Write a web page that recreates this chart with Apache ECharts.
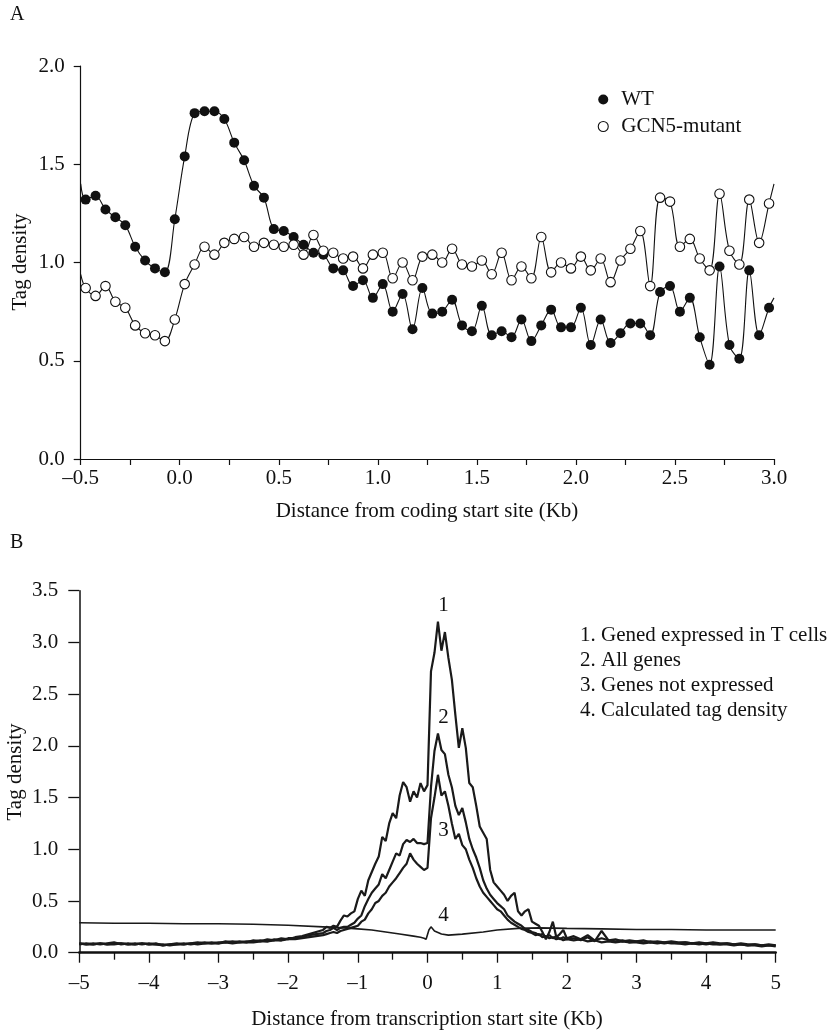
<!DOCTYPE html>
<html>
<head>
<meta charset="utf-8">
<script src="https://cdn.jsdelivr.net/npm/echarts@6/dist/echarts.min.js"></script>
<style>
  html, body { margin: 0; padding: 0; background: #fff; }
  #chart { width: 835px; height: 1031px; }
</style>
</head>
<body>
<div id="chart"></div>
<script>
// ---------- Panel A data ----------
const xsA = [-0.5, -0.475, -0.425, -0.375, -0.325, -0.275, -0.225, -0.175, -0.125, -0.075, -0.025,
  0.025, 0.075, 0.125, 0.175, 0.225, 0.275, 0.325, 0.375, 0.425, 0.475,
  0.525, 0.575, 0.625, 0.675, 0.725, 0.775, 0.825, 0.875, 0.925, 0.975,
  1.025, 1.075, 1.125, 1.175, 1.225, 1.275, 1.325, 1.375, 1.425, 1.475,
  1.525, 1.575, 1.625, 1.675, 1.725, 1.775, 1.825, 1.875, 1.925, 1.975,
  2.025, 2.075, 2.125, 2.175, 2.225, 2.275, 2.325, 2.375, 2.425, 2.475,
  2.525, 2.575, 2.625, 2.675, 2.725, 2.775, 2.825, 2.875, 2.925, 2.975, 3.0];
const wtA = [1.40, 1.32, 1.34, 1.27, 1.23, 1.19, 1.08, 1.01, 0.97, 0.95, 1.22,
  1.54, 1.76, 1.77, 1.77, 1.73, 1.61, 1.52, 1.39, 1.33, 1.17,
  1.16, 1.13, 1.09, 1.05, 1.04, 0.97, 0.96, 0.88, 0.91, 0.82,
  0.89, 0.75, 0.84, 0.66, 0.87, 0.74, 0.75, 0.81, 0.68, 0.65,
  0.78, 0.63, 0.65, 0.62, 0.71, 0.60, 0.68, 0.76, 0.67, 0.67,
  0.77, 0.58, 0.71, 0.59, 0.64, 0.69, 0.69, 0.63, 0.85, 0.88,
  0.75, 0.82, 0.62, 0.48, 0.98, 0.58, 0.51, 0.96, 0.63, 0.77, 0.82];
const gcnA = [0.94, 0.87, 0.83, 0.88, 0.80, 0.77, 0.68, 0.64, 0.63, 0.60, 0.71,
  0.89, 0.99, 1.08, 1.04, 1.10, 1.12, 1.13, 1.08, 1.10, 1.09,
  1.08, 1.09, 1.04, 1.14, 1.06, 1.05, 1.02, 1.03, 0.97, 1.04,
  1.05, 0.92, 1.00, 0.91, 1.03, 1.04, 1.00, 1.07, 0.99, 0.98,
  1.01, 0.94, 1.05, 0.91, 0.98, 0.92, 1.13, 0.95, 1.00, 0.97,
  1.03, 0.96, 1.02, 0.90, 1.01, 1.07, 1.16, 0.88, 1.33, 1.31,
  1.08, 1.12, 1.02, 0.96, 1.35, 1.06, 0.99, 1.32, 1.10, 1.30, 1.40];
const namesA = ['WT', 'GCN5-mutant'];

// ---------- Panel B data ----------
const xsB = [-5.0, -4.9, -4.8, -4.7, -4.6, -4.5, -4.4, -4.3, -4.2, -4.1, -4.0, -3.9, -3.8, -3.7, -3.6, -3.5, -3.4,
  -3.3, -3.2, -3.1, -3.0, -2.9, -2.8, -2.7, -2.6, -2.5, -2.4, -2.3, -2.2, -2.1, -2.0, -1.9, -1.8, -1.7, -1.6,
  -1.5, -1.45, -1.4, -1.35, -1.3, -1.25, -1.2, -1.15, -1.1, -1.05, -1.0, -0.95, -0.9, -0.85, -0.8, -0.75,
  -0.7, -0.65, -0.6, -0.55, -0.5, -0.45, -0.4, -0.35, -0.3, -0.25, -0.2, -0.15, -0.1, -0.05, 0.0,
  0.05, 0.1, 0.15, 0.2, 0.25, 0.3, 0.35, 0.4, 0.45, 0.5, 0.55, 0.6, 0.65, 0.7, 0.75, 0.8, 0.85, 0.9, 0.95, 1.0,
  1.05, 1.1, 1.15, 1.2, 1.25, 1.3, 1.35, 1.4, 1.45, 1.5, 1.55, 1.6, 1.65, 1.7, 1.75, 1.8, 1.85, 1.9, 1.95, 2.0,
  2.1, 2.2, 2.3, 2.4, 2.5, 2.6, 2.7, 2.8, 2.9, 3.0, 3.1, 3.2, 3.3, 3.4, 3.5, 3.6, 3.7, 3.8, 3.9, 4.0,
  4.1, 4.2, 4.3, 4.4, 4.5, 4.6, 4.7, 4.8, 4.9, 5.0];
const expressedB = [0.09, 0.08, 0.09, 0.08, 0.09, 0.10, 0.08, 0.09, 0.08, 0.09, 0.08, 0.09, 0.07, 0.08, 0.09, 0.08, 0.09,
  0.10, 0.09, 0.10, 0.09, 0.11, 0.10, 0.11, 0.10, 0.12, 0.11, 0.13, 0.12, 0.14, 0.13, 0.15, 0.16, 0.18, 0.20,
  0.22, 0.25, 0.24, 0.26, 0.25, 0.31, 0.36, 0.35, 0.38, 0.40, 0.52, 0.60, 0.55, 0.70, 0.78, 0.86,
  0.93, 1.12, 1.08, 1.25, 1.35, 1.30, 1.52, 1.65, 1.60, 1.46, 1.56, 1.50, 1.64, 1.56, 1.62,
  2.72, 2.90, 3.20, 2.92, 3.10, 2.85, 2.64, 2.30, 1.98, 2.17, 1.98, 1.64, 1.60, 1.42, 1.22, 1.16, 1.10, 0.80, 0.68, 0.64,
  0.60, 0.56, 0.50, 0.55, 0.58, 0.40, 0.36, 0.40, 0.42, 0.30, 0.28, 0.26, 0.20, 0.13, 0.20, 0.30, 0.15, 0.18, 0.22, 0.14,
  0.16, 0.13, 0.17, 0.12, 0.14, 0.12, 0.13, 0.11, 0.12, 0.11, 0.12, 0.10, 0.11, 0.10, 0.11, 0.10, 0.10, 0.09, 0.10, 0.09,
  0.10, 0.09, 0.09, 0.08, 0.09, 0.08, 0.08, 0.07, 0.08, 0.07];
const allGenesB = [0.08, 0.09, 0.08, 0.09, 0.08, 0.09, 0.09, 0.08, 0.09, 0.08, 0.09, 0.08, 0.08, 0.07, 0.08, 0.09, 0.08,
  0.09, 0.10, 0.09, 0.10, 0.10, 0.11, 0.10, 0.11, 0.11, 0.12, 0.11, 0.13, 0.12, 0.14, 0.14, 0.15, 0.17, 0.18,
  0.19, 0.21, 0.22, 0.24, 0.22, 0.24, 0.25, 0.25, 0.27, 0.29, 0.33, 0.36, 0.45, 0.52, 0.58, 0.62,
  0.66, 0.76, 0.72, 0.80, 0.88, 0.96, 0.94, 1.05, 1.09, 1.07, 1.10, 1.06, 1.06, 1.05, 1.06,
  1.60, 1.95, 2.12, 1.96, 1.92, 1.72, 1.60, 1.42, 1.33, 1.40, 1.26, 1.10, 1.00, 0.92, 0.82, 0.70, 0.62, 0.56, 0.52, 0.48,
  0.45, 0.42, 0.36, 0.33, 0.30, 0.28, 0.26, 0.23, 0.22, 0.20, 0.19, 0.17, 0.18, 0.15, 0.17, 0.14, 0.16, 0.13, 0.15, 0.13,
  0.14, 0.12, 0.15, 0.11, 0.21, 0.12, 0.11, 0.12, 0.10, 0.11, 0.10, 0.11, 0.10, 0.09, 0.10, 0.09, 0.10, 0.09, 0.09, 0.08,
  0.09, 0.08, 0.09, 0.08, 0.08, 0.07, 0.08, 0.07, 0.07, 0.07];
const notExpressedB = [0.09, 0.08, 0.08, 0.09, 0.08, 0.08, 0.09, 0.08, 0.08, 0.09, 0.08, 0.08, 0.07, 0.08, 0.08, 0.08, 0.09,
  0.08, 0.09, 0.09, 0.09, 0.10, 0.09, 0.10, 0.10, 0.10, 0.11, 0.11, 0.12, 0.12, 0.13, 0.13, 0.14, 0.15, 0.16,
  0.17, 0.18, 0.19, 0.20, 0.19, 0.21, 0.22, 0.23, 0.24, 0.25, 0.26, 0.30, 0.32, 0.38, 0.42, 0.48,
  0.50, 0.55, 0.58, 0.64, 0.68, 0.72, 0.77, 0.82, 0.86, 0.96, 0.90, 0.86, 0.83, 0.80, 0.82,
  1.30, 1.50, 1.72, 1.52, 1.56, 1.42, 1.25, 1.10, 1.15, 1.04, 1.00, 0.90, 0.82, 0.72, 0.64, 0.58, 0.54, 0.50, 0.46, 0.42,
  0.40, 0.36, 0.32, 0.29, 0.27, 0.25, 0.23, 0.22, 0.20, 0.19, 0.17, 0.18, 0.15, 0.16, 0.14, 0.15, 0.13, 0.14, 0.12, 0.13,
  0.12, 0.13, 0.11, 0.12, 0.10, 0.11, 0.10, 0.11, 0.10, 0.10, 0.09, 0.10, 0.09, 0.10, 0.09, 0.09, 0.08, 0.09, 0.08, 0.09,
  0.08, 0.08, 0.08, 0.07, 0.08, 0.07, 0.07, 0.06, 0.07, 0.06];
const xsCalc = [-5.0, -4.5, -4.0, -3.5, -3.0, -2.5, -2.0, -1.5, -1.2, -1.0, -0.8, -0.6, -0.4, -0.2, -0.1, -0.05, -0.02,
  0.02, 0.05, 0.1, 0.2, 0.3, 0.5, 0.8, 1.0, 1.3, 1.6, 2.0, 2.5, 3.0, 3.5, 4.0, 4.5, 5.0];
const calcB = [0.29, 0.285, 0.285, 0.28, 0.28, 0.275, 0.265, 0.25, 0.24, 0.23, 0.22, 0.20, 0.18, 0.16, 0.15, 0.14, 0.13,
  0.22, 0.25, 0.21, 0.18, 0.17, 0.18, 0.20, 0.22, 0.235, 0.24, 0.235, 0.23, 0.225, 0.225, 0.22, 0.22, 0.22];
const legendB = ['1. Gened expressed in T cells', '2. All genes', '3. Genes not expressed', '4. Calculated tag density'];
const curveLabelsB = ['1', '2', '3', '4'];

const FONT = 'Liberation Serif';
const INK = '#111';

function pairs(xs, ys) { return xs.map((x, i) => [x, ys[i]]); }
function dashNum(v, d) { const s = Math.abs(v).toFixed(d); return v < 0 ? '\u2013' + s : s; }

const chart = echarts.init(document.getElementById('chart'), null, { renderer: 'canvas' });

const lastA = xsA.length - 1;
function seriesA(name, ys, filled, z) {
  return {
    name: name, type: 'line', xAxisIndex: 0, yAxisIndex: 0, z: z,
    smooth: 0.35,
    symbol: 'circle',
    symbolSize: filled ? 10 : 9.5,
    data: xsA.map((x, i) => (i === 0 || i === lastA)
      ? { value: [x, ys[i]], symbol: 'none' } : { value: [x, ys[i]] }),
    lineStyle: { color: INK, width: 1.1 },
    itemStyle: filled ? { color: INK, borderColor: INK, borderWidth: 0 }
                      : { color: '#fff', borderColor: INK, borderWidth: 1.1 },
    emphasis: { disabled: true }
  };
}
function seriesB(name, xs, ys, w) {
  return {
    name: name, type: 'line', xAxisIndex: 1, yAxisIndex: 1,
    showSymbol: false, symbol: 'none',
    data: pairs(xs, ys),
    lineStyle: { color: '#1a1a1a', width: w },
    emphasis: { disabled: true }
  };
}

const axisLabelBase = { color: INK, fontFamily: FONT, fontSize: 21 };

const option = {
  animation: false,
  backgroundColor: '#fff',
  textStyle: { fontFamily: FONT },
  grid: [
    { left: 80.7, top: 66, width: 693.3, height: 393 },
    { left: 79.3, top: 590.7, width: 696.4, height: 362 }
  ],
  xAxis: [
    {
      gridIndex: 0, type: 'value', min: -0.5, max: 3.0, interval: 0.5,
      axisLine: { onZero: false, lineStyle: { color: INK, width: 1.2 } },
      axisTick: { length: 6, lineStyle: { color: INK, width: 1.2 } },
      minorTick: { show: true, splitNumber: 2, length: 6, lineStyle: { color: INK, width: 1.2 } },
      splitLine: { show: false },
      axisLabel: Object.assign({ margin: 9, formatter: v => dashNum(v, 1) }, axisLabelBase)
    },
    {
      gridIndex: 1, type: 'value', min: -5, max: 5, interval: 1,
      axisLine: { onZero: false, lineStyle: { color: INK, width: 2.5 } },
      axisTick: { length: 10, lineStyle: { color: INK, width: 1.3 } },
      minorTick: { show: true, splitNumber: 2, length: 7, lineStyle: { color: INK, width: 1.3 } },
      splitLine: { show: false },
      axisLabel: Object.assign({ margin: 20, formatter: v => dashNum(v, 0) }, axisLabelBase)
    }
  ],
  yAxis: [
    {
      gridIndex: 0, type: 'value', min: 0, max: 2.0, interval: 0.5,
      axisLine: { show: true, onZero: false, lineStyle: { color: INK, width: 1.2 } },
      axisTick: { show: true, length: 7, lineStyle: { color: INK, width: 1.2 } },
      splitLine: { show: false },
      axisLabel: Object.assign({ margin: 16, formatter: v => v.toFixed(1) }, axisLabelBase)
    },
    {
      gridIndex: 1, type: 'value', min: 0, max: 3.5, interval: 0.5,
      axisLine: { show: true, onZero: false, lineStyle: { color: INK, width: 1.5 } },
      axisTick: { show: true, length: 11, lineStyle: { color: INK, width: 1.3 } },
      splitLine: { show: false },
      axisLabel: Object.assign({ margin: 21, formatter: v => v.toFixed(1) }, axisLabelBase)
    }
  ],
  legend: {
    orient: 'vertical', left: 592.7, top: 84, itemWidth: 10, itemHeight: 10, itemGap: 6,
    selectedMode: false,
    data: [
      { name: namesA[0], icon: 'circle', itemStyle: { color: INK, borderWidth: 0 } },
      { name: namesA[1], icon: 'circle', itemStyle: { color: '#fff', borderColor: INK, borderWidth: 1.1 } }
    ],
    textStyle: { color: INK, fontFamily: FONT, fontSize: 21, padding: [0, 0, 0, 8] }
  },
  series: [
    seriesA(namesA[0], wtA, true, 2),
    seriesA(namesA[1], gcnA, false, 3),
    seriesB(legendB[3], xsCalc, calcB, 1.6),
    seriesB(legendB[2], xsB, notExpressedB, 2.2),
    seriesB(legendB[1], xsB, allGenesB, 2.2),
    seriesB(legendB[0], xsB, expressedB, 2.2)
  ],
  graphic: [
    { type: 'text', left: 10, top: 5, style: { text: 'A', font: '20px "Liberation Serif"', fill: INK } },
    { type: 'text', left: 10, top: 533, style: { text: 'B', font: '20px "Liberation Serif"', fill: INK } },
    { type: 'text', x: 427, y: 511, style: { text: 'Distance from coding start site (Kb)', font: '21px "Liberation Serif"', fill: INK, align: 'center', verticalAlign: 'middle' } },
    { type: 'text', x: 427, y: 1019, style: { text: 'Distance from transcription start site (Kb)', font: '21px "Liberation Serif"', fill: INK, align: 'center', verticalAlign: 'middle' } },
    { type: 'text', x: 20, y: 262, rotation: Math.PI / 2, style: { text: 'Tag density', font: '21px "Liberation Serif"', fill: INK, align: 'center', verticalAlign: 'middle' } },
    { type: 'text', x: 15, y: 772, rotation: Math.PI / 2, style: { text: 'Tag density', font: '21px "Liberation Serif"', fill: INK, align: 'center', verticalAlign: 'middle' } },
    { type: 'text', x: 580, y: 635, style: { text: legendB[0], font: '21px "Liberation Serif"', fill: INK, verticalAlign: 'middle' } },
    { type: 'text', x: 580, y: 660, style: { text: legendB[1], font: '21px "Liberation Serif"', fill: INK, verticalAlign: 'middle' } },
    { type: 'text', x: 580, y: 685, style: { text: legendB[2], font: '21px "Liberation Serif"', fill: INK, verticalAlign: 'middle' } },
    { type: 'text', x: 580, y: 710, style: { text: legendB[3], font: '21px "Liberation Serif"', fill: INK, verticalAlign: 'middle' } },
    { type: 'text', x: 443.5, y: 605, style: { text: curveLabelsB[0], font: '21px "Liberation Serif"', fill: INK, align: 'center', verticalAlign: 'middle' } },
    { type: 'text', x: 443.5, y: 717, style: { text: curveLabelsB[1], font: '21px "Liberation Serif"', fill: INK, align: 'center', verticalAlign: 'middle' } },
    { type: 'text', x: 443.5, y: 830, style: { text: curveLabelsB[2], font: '21px "Liberation Serif"', fill: INK, align: 'center', verticalAlign: 'middle' } },
    { type: 'text', x: 443.5, y: 915, style: { text: curveLabelsB[3], font: '21px "Liberation Serif"', fill: INK, align: 'center', verticalAlign: 'middle' } }
  ]
};
chart.setOption(option);
</script>
</body>
</html>
